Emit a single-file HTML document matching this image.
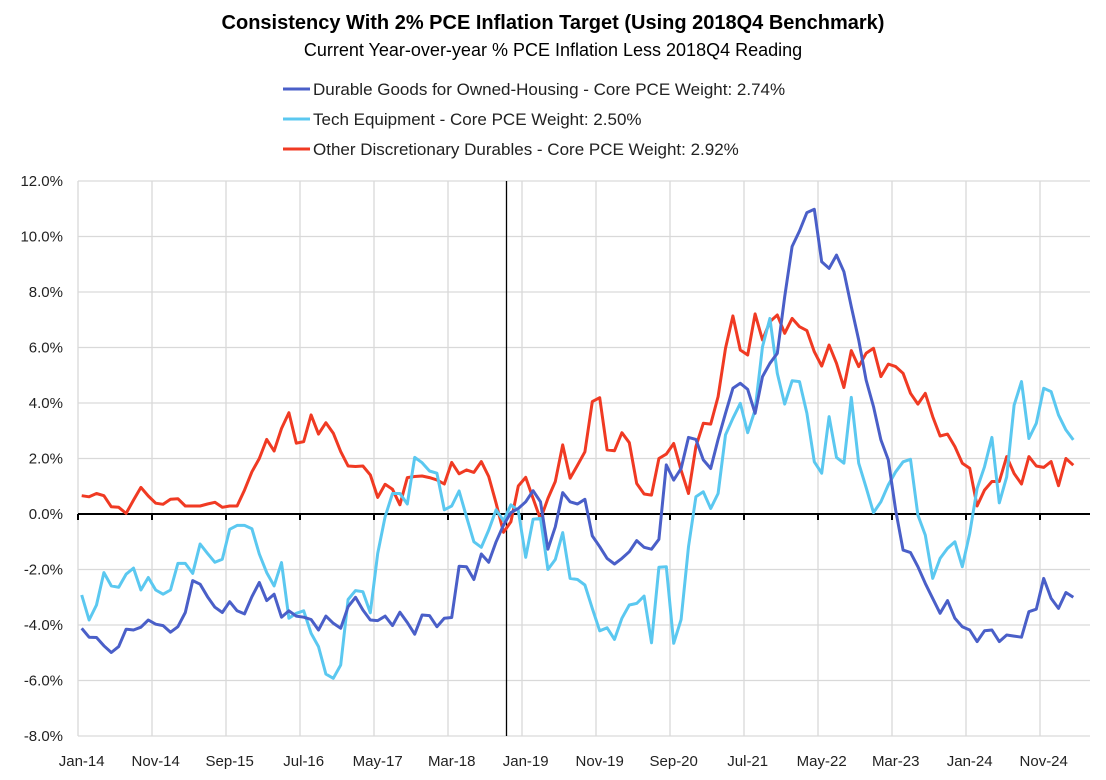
<!DOCTYPE html>
<html><head><meta charset="utf-8"><style>
body{margin:0;background:#fff;}
svg{display:block;font-family:"Liberation Sans",sans-serif;}
</style></head><body>
<svg id="chart" width="1106" height="780">
<rect x="0" y="0" width="1106" height="780" fill="#fff"/>
<text x="553" y="29" text-anchor="middle" font-size="20" font-weight="bold" fill="#000">Consistency With 2% PCE Inflation Target (Using 2018Q4 Benchmark)</text>
<text x="553" y="56" text-anchor="middle" font-size="18" fill="#000">Current Year-over-year % PCE Inflation Less 2018Q4 Reading</text>
<g>
<g><line x1="283" y1="89" x2="310" y2="89" stroke="#4a5fc8" stroke-width="3"/><text x="313" y="95" font-size="17" fill="#222">Durable Goods for Owned-Housing - Core PCE Weight: 2.74%</text></g>
<g><line x1="283" y1="119" x2="310" y2="119" stroke="#5bc8f0" stroke-width="3"/><text x="313" y="125" font-size="17" fill="#222">Tech Equipment - Core PCE Weight: 2.50%</text></g>
<g><line x1="283" y1="149" x2="310" y2="149" stroke="#f03a23" stroke-width="3"/><text x="313" y="155" font-size="17" fill="#222">Other Discretionary Durables - Core PCE Weight: 2.92%</text></g>
</g>
<g id="grid"></g>
<g id="yaxis"></g>
<g id="xaxis"></g>
<g id="series"></g>
</svg>
<script>
const xLabels=["Jan-14","Nov-14","Sep-15","Jul-16","May-17","Mar-18","Jan-19","Nov-19","Sep-20","Jul-21","May-22","Mar-23","Jan-24","Nov-24"];
const yTicks=[12,10,8,6,4,2,0,-2,-4,-6,-8];
const durableGoods=[-4.12,-4.44,-4.45,-4.75,-4.99,-4.78,-4.15,-4.18,-4.08,-3.82,-3.97,-4.02,-4.26,-4.06,-3.55,-2.40,-2.53,-2.98,-3.36,-3.55,-3.16,-3.49,-3.60,-2.98,-2.47,-3.12,-2.89,-3.72,-3.49,-3.68,-3.72,-3.80,-4.18,-3.68,-3.94,-4.12,-3.34,-3.00,-3.46,-3.82,-3.84,-3.68,-4.02,-3.54,-3.91,-4.33,-3.64,-3.66,-4.06,-3.76,-3.73,-1.88,-1.90,-2.36,-1.44,-1.74,-1.00,-0.40,0.05,0.20,0.44,0.84,0.44,-1.27,-0.46,0.77,0.44,0.36,0.53,-0.79,-1.18,-1.60,-1.80,-1.60,-1.36,-0.96,-1.20,-1.27,-0.91,1.77,1.22,1.64,2.76,2.69,1.95,1.64,2.69,3.63,4.53,4.71,4.49,3.63,4.95,5.43,5.79,7.83,9.64,10.2,10.86,10.98,9.09,8.85,9.33,8.73,7.47,6.27,4.83,3.87,2.67,1.95,0.13,-1.30,-1.39,-1.90,-2.50,-3.04,-3.58,-3.12,-3.76,-4.06,-4.18,-4.60,-4.21,-4.18,-4.60,-4.36,-4.40,-4.44,-3.52,-3.43,-2.32,-3.04,-3.40,-2.83,-3.00];
const techEquipment=[-2.92,-3.82,-3.28,-2.11,-2.59,-2.64,-2.17,-1.95,-2.74,-2.29,-2.74,-2.89,-2.74,-1.78,-1.78,-2.14,-1.08,-1.42,-1.74,-1.63,-0.55,-0.41,-0.41,-0.53,-1.44,-2.11,-2.59,-1.75,-3.76,-3.58,-3.49,-4.30,-4.78,-5.77,-5.92,-5.44,-3.08,-2.76,-2.80,-3.56,-1.42,-0.10,0.74,0.74,0.36,2.04,1.85,1.55,1.47,0.15,0.29,0.83,-0.10,-1.00,-1.20,-0.58,0.15,-0.24,0.33,0.12,-1.56,-0.19,-0.16,-2.00,-1.64,-0.67,-2.32,-2.36,-2.56,-3.40,-4.21,-4.10,-4.52,-3.76,-3.28,-3.22,-2.96,-4.64,-1.92,-1.90,-4.66,-3.80,-1.18,0.62,0.80,0.20,0.74,2.85,3.45,3.99,2.93,3.75,6.03,7.05,5.07,3.96,4.80,4.77,3.63,1.88,1.47,3.51,2.04,1.83,4.20,1.83,0.96,0.05,0.44,1.05,1.52,1.88,1.97,-0.04,-0.76,-2.32,-1.60,-1.24,-1.00,-1.90,-0.70,0.92,1.70,2.76,0.40,1.34,3.92,4.77,2.72,3.27,4.53,4.41,3.57,3.03,2.67];
const otherDurables=[0.66,0.62,0.74,0.66,0.26,0.24,0.02,0.50,0.96,0.65,0.39,0.35,0.53,0.55,0.29,0.29,0.29,0.36,0.42,0.24,0.29,0.29,0.86,1.52,2.0,2.69,2.27,3.08,3.65,2.55,2.61,3.57,2.88,3.29,2.91,2.25,1.73,1.71,1.73,1.41,0.60,1.07,0.89,0.33,1.31,1.35,1.37,1.31,1.23,1.08,1.86,1.45,1.59,1.50,1.89,1.35,0.39,-0.66,-0.28,1.01,1.32,0.56,-0.19,0.56,1.17,2.49,1.29,1.76,2.24,4.05,4.19,2.31,2.28,2.93,2.57,1.10,0.72,0.68,2.00,2.16,2.54,1.58,0.74,2.43,3.27,3.24,4.23,5.97,7.14,5.91,5.73,7.21,6.27,6.93,7.17,6.51,7.05,6.75,6.61,5.85,5.33,6.09,5.43,4.56,5.89,5.31,5.79,5.97,4.95,5.40,5.31,5.07,4.35,3.96,4.35,3.51,2.81,2.88,2.43,1.83,1.65,0.29,0.86,1.17,1.17,2.07,1.46,1.08,2.07,1.73,1.68,1.89,1.02,2.00,1.76];

const NS="http://www.w3.org/2000/svg";
const plotLeft=78,plotRight=1090,plotTop=181,plotBottom=736,yMin=-8,yMax=12,catStep=7.4;
function yPos(v){return plotBottom-(v-yMin)/(yMax-yMin)*(plotBottom-plotTop);}
function xPos(i){return plotLeft+catStep*(i+0.5);}
function mk(tag,attrs,parent){const e=document.createElementNS(NS,tag);for(const k in attrs)e.setAttribute(k,attrs[k]);parent.appendChild(e);return e;}
const gridG=document.getElementById('grid'),yaG=document.getElementById('yaxis'),xaG=document.getElementById('xaxis'),serG=document.getElementById('series');
yTicks.forEach(t=>{
  const y=yPos(t);
  if(t!==0){const l=mk('line',{x1:plotLeft,x2:plotRight,y1:y,y2:y,stroke:'#d9d9d9','stroke-width':1.3},gridG);
  
  }
  const tx=mk('text',{x:63,y:y+5,'text-anchor':'end','font-size':15,fill:'#222'},yaG);
  tx.textContent=t.toFixed(1)+'%';
  
  
});
xLabels.forEach((lab,k)=>{
  const gx=plotLeft+74*k;
  const l=mk('line',{x1:gx,x2:gx,y1:plotTop,y2:plotBottom,stroke:'#d9d9d9','stroke-width':1.3},gridG);
  
  
  const tk=mk('line',{x1:gx,x2:gx,y1:yPos(0),y2:yPos(0)+6,stroke:'#000','stroke-width':2},xaG);
  
  
  const tx=mk('text',{x:xPos(k*10),y:766,'text-anchor':'middle','font-size':15,fill:'#222'},xaG);
  tx.textContent=lab;
  
  
});
const zl=mk('line',{x1:plotLeft,x2:plotRight,y1:yPos(0),y2:yPos(0),stroke:'#000','stroke-width':2},xaG);


const bl=mk('line',{x1:506.5,x2:506.5,y1:plotTop,y2:plotBottom,stroke:'#000','stroke-width':1.3},xaG);


[[otherDurables,'#f03a23','other-discretionary-durables-line'],[techEquipment,'#5bc8f0','tech-equipment-line'],[durableGoods,'#4a5fc8','durable-goods-line']].forEach(([d,c,n])=>{
  const p=mk('polyline',{points:d.map((v,i)=>xPos(i).toFixed(1)+','+yPos(v).toFixed(1)).join(' '),fill:'none',stroke:c,'stroke-width':3,'stroke-linejoin':'round'},serG);
  
  
});
</script>
</body></html>
